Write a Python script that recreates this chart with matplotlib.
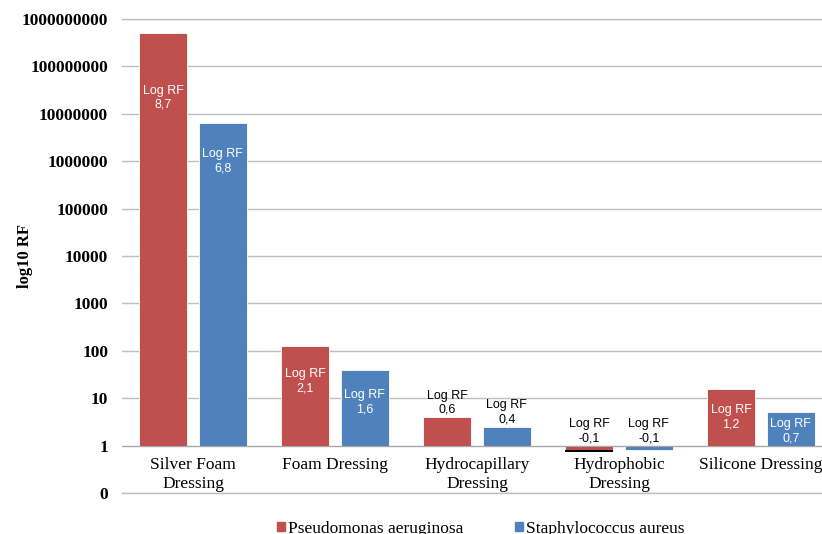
import numpy as np
import matplotlib
matplotlib.use("Agg")
import matplotlib.pyplot as plt
from matplotlib.patches import Patch

#%% data
categories = ["Silver Foam\nDressing", "Foam Dressing", "Hydrocapillary\nDressing",
              "Hydrophobic\nDressing", "Silicone Dressing"]
log_pseudomonas = [8.7, 2.1, 0.6, -0.1, 1.2]
log_staph = [6.8, 1.6, 0.4, -0.1, 0.7]
series_names = ["Pseudomonas aeruginosa", "Staphylococcus aureus"]
ytick_values = [0.1, 1, 10, 100, 1000, 10000, 100000, 1000000, 10000000,
                100000000, 1000000000]
ytick_labels = ["0", "1", "10", "100", "1000", "10000", "100000", "1000000",
                "10000000", "100000000", "1000000000"]

red = "#C0504D"
blue = "#4F81BD"
serif = "Liberation Serif"
sans = "Liberation Sans"

# how far (points) inside the bar top the label sits, per series
inside_offset = [[37, 16, 0, 0, 11], [18, 14, 0, 0, 4]]

#%% plot
fig = plt.figure(figsize=(8.22, 5.34), dpi=100)
ax = fig.add_axes([122 / 822, 1 - 493 / 534, 710 / 822, 474 / 534])

x = np.arange(len(categories))
width = 0.335
shift = 0.21

for k, (logs, color) in enumerate([(log_pseudomonas, red), (log_staph, blue)]):
    vals = 10 ** np.array(logs)
    xs = x + (-shift if k == 0 else shift)
    ax.bar(xs, vals - 1, bottom=1, width=width, color=color,
           edgecolor="white", linewidth=0.6, zorder=3)
    for i, (xx, lv, v) in enumerate(zip(xs, logs, vals)):
        txt = "Log RF\n" + f"{lv:.1f}".replace(".", ",")
        if lv >= 0.7:
            ax.annotate(txt, (xx, v), xytext=(0, -inside_offset[k][i]),
                        textcoords="offset points", ha="center", va="top",
                        color="white", fontsize=9, family=sans, zorder=4,
                        linespacing=1.25)
        else:
            top = max(v, 1)
            ax.annotate(txt, (xx, top), xytext=(0, 1),
                        textcoords="offset points", ha="center", va="bottom",
                        color="black", fontsize=9, family=sans, zorder=4,
                        linespacing=1.25)

# black base under the hydrophobic pseudomonas bar
hp = 10 ** log_pseudomonas[3]
ax.bar(x[3] - shift, hp * 0.93 - hp, bottom=hp, width=width, color="black",
       zorder=3)

ax.set_yscale("log")
ax.set_ylim(0.1, 1e9)
ax.set_xlim(-0.5, len(categories) - 0.5)
ax.yaxis.set_major_locator(matplotlib.ticker.FixedLocator(ytick_values))
ax.yaxis.set_minor_locator(matplotlib.ticker.NullLocator())
ax.set_yticklabels(ytick_labels, family=serif, fontsize=12.5, fontweight="bold")
ax.tick_params(axis="y", length=0, pad=10)
ax.grid(axis="y", color="#BFBFBF", linewidth=1, zorder=0)
for yv in (ytick_values[0], ytick_values[-1]):
    ax.axhline(yv, color="#BFBFBF", linewidth=1, zorder=0, clip_on=False)

ax.spines["bottom"].set_position(("data", 1))
ax.spines["bottom"].set_color("#A6A6A6")
ax.spines["bottom"].set_zorder(5)
for s in ["top", "right", "left"]:
    ax.spines[s].set_visible(False)
ax.set_xticks(x)
ax.set_xticklabels(categories, family=serif, fontsize=12.5, linespacing=1.25)
ax.tick_params(axis="x", length=0, pad=8)

ax.set_ylabel("log10 RF", family=serif, fontsize=12, fontweight="bold")
ax.yaxis.set_label_coords(-0.125, 0.5)

handles = [Patch(color=red), Patch(color=blue)]
fig.legend(handles, series_names, loc="center", bbox_to_anchor=(0.585, 0.01),
           ncol=2, frameon=False, handlelength=0.46, handleheight=0.46,
           handletextpad=0.15, columnspacing=3.0,
           prop={"family": serif, "size": 12.5})

fig.savefig("out.png", dpi=100)
